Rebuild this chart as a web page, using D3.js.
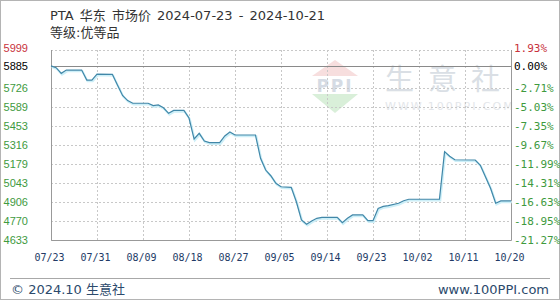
<!DOCTYPE html>
<html><head><meta charset="utf-8">
<script src="https://cdn.jsdelivr.net/npm/d3@7"></script>
<style>html,body{margin:0;padding:0;background:#fff;}svg{display:block;}</style>
</head><body>
<svg id="chart" width="560" height="300"></svg>
<script>
const titleText = "PTA 华东 市场价 2024-07-23 - 2024-10-21";
const subtitleText = "等级:优等品";
const dates = ["2024-07-23","2024-07-24","2024-07-25","2024-07-26","2024-07-29","2024-07-30","2024-07-31","2024-08-01","2024-08-04","2024-08-05","2024-08-06","2024-08-07","2024-08-08","2024-08-11","2024-08-12","2024-08-13","2024-08-14","2024-08-15","2024-08-16","2024-08-18","2024-08-19","2024-08-20","2024-08-21","2024-08-22","2024-08-23","2024-08-25","2024-08-26","2024-08-27","2024-08-28","2024-09-01","2024-09-02","2024-09-03","2024-09-04","2024-09-05","2024-09-06","2024-09-08","2024-09-09","2024-09-10","2024-09-11","2024-09-12","2024-09-13","2024-09-14","2024-09-17","2024-09-18","2024-09-19","2024-09-20","2024-09-22","2024-09-23","2024-09-24","2024-09-25","2024-09-26","2024-09-27","2024-09-29","2024-09-30","2024-10-01","2024-10-07","2024-10-08","2024-10-09","2024-10-10","2024-10-14","2024-10-15","2024-10-16","2024-10-17","2024-10-18","2024-10-19","2024-10-21"];
const prices = [5885,5872,5831,5855,5855,5783,5783,5826,5824,5747,5672,5635,5616,5616,5599,5604,5584,5544,5565,5565,5510,5359,5400,5345,5333,5333,5381,5409,5388,5388,5220,5136,5095,5041,5016,5012,4908,4777,4746,4770,4789,4796,4796,4757,4789,4813,4813,4772,4772,4860,4875,4880,4897,4915,4926,4926,5268,5235,5210,5208,5170,5088,5005,4897,4914,4914];
const yTicks = [5999,5885,5726,5589,5453,5316,5179,5043,4906,4770,4633];
const pctTicks = ["1.93%","0.00%","-2.71%","-5.03%","-7.35%","-9.67%","-11.99%","-14.31%","-16.63%","-18.95%","-21.27%"];
const xTickLabels = ["07/23","07/31","08/09","08/18","08/27","09/05","09/14","09/23","10/02","10/11","10/20"];
const basePrice = 5885;
const startDate = "2024-07-23", endDate = "2024-10-21";

const svg = d3.select("#chart");
const parse = d3.timeParse("%Y-%m-%d");
const L = 51, R = 511, T = 50, B = 240;
const x = d3.scaleTime().domain([parse(startDate), parse(endDate)]).range([L, R]);
const y = d3.scaleLinear().domain([4633, 5999]).range([B, T]);
const tickDates = xTickLabels.map((_, i) => d3.timeDay.offset(parse(startDate), i * 9));

// outer border
svg.append("rect").attr("x",0.5).attr("y",0.5).attr("width",559).attr("height",299)
  .attr("fill","none").attr("stroke","#b4b4b4");

// titles
svg.append("text").attr("x",50).attr("y",20).attr("font-family","DejaVu Sans, Noto Sans CJK SC")
  .attr("font-size",13).attr("word-spacing",2).attr("fill","#333").text(titleText);
svg.append("text").attr("x",50).attr("y",37).attr("font-family","DejaVu Sans, Noto Sans CJK SC")
  .attr("font-size",13).attr("fill","#333").text(subtitleText);

// watermark
const wm = svg.append("g");
wm.append("polygon").attr("points","335,60 358,76 312,76").attr("fill","#f7dede");
wm.append("polygon").attr("points","312,94 358,94 335,113").attr("fill","#d9efd9");
wm.append("text").attr("x",335).attr("y",92).attr("text-anchor","middle").attr("font-family","DejaVu Sans")
  .attr("font-weight","bold").attr("font-size",17).attr("letter-spacing",2).attr("fill","#d5dbe4").text("PPI");
wm.append("text").attr("x",385).attr("y",90).attr("font-family","Noto Sans CJK SC")
  .attr("font-size",29).attr("letter-spacing",14).attr("fill","#dadfe5").text("生意社");
wm.append("text").attr("x",385).attr("y",110).attr("font-family","DejaVu Sans")
  .attr("font-size",11).attr("letter-spacing",2).attr("fill","#e3e6ea").text("WWW.100PPI.COM");

// horizontal grid
svg.append("g").selectAll("line").data(yTicks.filter(v => v !== basePrice)).join("line")
  .attr("x1",L).attr("x2",R).attr("y1",d=>Math.round(y(d))+0.5).attr("y2",d=>Math.round(y(d))+0.5)
  .attr("stroke","#c8c8c8").attr("stroke-dasharray","2,2");
// vertical grid
svg.append("g").selectAll("line").data(tickDates.slice(1,-1)).join("line")
  .attr("y1",T).attr("y2",B).attr("x1",d=>Math.round(x(d))+0.5).attr("x2",d=>Math.round(x(d))+0.5)
  .attr("stroke","#c8c8c8").attr("stroke-dasharray","2,2");
// frame
svg.append("path").attr("d",`M${L+0.5},${T}V${B+0.5}H${R+0.5}V${T}`).attr("fill","none").attr("stroke","#999");
// baseline
svg.append("line").attr("x1",L).attr("x2",R).attr("y1",Math.round(y(basePrice))+0.5).attr("y2",Math.round(y(basePrice))+0.5)
  .attr("stroke","#8a8a8a");

// line
const data = dates.map((d,i)=>({date:parse(d), v:prices[i]}));
const line = d3.line().x(d=>x(d.date)).y(d=>y(d.v));
svg.append("path").datum(data).attr("d",line).attr("transform","translate(0.8,1.2)")
  .attr("fill","none").attr("stroke","#cdeff8").attr("stroke-width",2.2);
svg.append("path").datum(data).attr("d",line).attr("fill","none").attr("stroke","#4187a8").attr("stroke-width",1.2);

// left axis labels
const yl = svg.append("g").attr("font-family","Liberation Sans, Arial").attr("font-size",11);
yl.selectAll("text").data(yTicks).join("text")
  .attr("x",28).attr("text-anchor","end").attr("y",(d,i)=>y(d)+(i===0?2:4))
  .attr("fill",d=> d>basePrice ? "#c8323c" : d===basePrice ? "#000" : "#3e9a3e").text(d=>d);
// right axis labels
const yr = svg.append("g").attr("font-family","DejaVu Sans Mono, monospace").attr("font-size",11);
yr.selectAll("text").data(yTicks).join("text")
  .attr("x",514).attr("y",(d,i)=>y(d)+(i===0?2:4))
  .attr("fill",d=> d>basePrice ? "#c8323c" : d===basePrice ? "#000" : "#3e9a3e").text((d,i)=>pctTicks[i]);

// x axis labels
const xa = d3.axisBottom(x).tickValues(tickDates).tickFormat((d,i)=>xTickLabels[i]).tickSize(0).tickPadding(0);
const gx = svg.append("g").attr("transform",`translate(-2,${B+14})`).call(xa);
gx.select(".domain").remove();
gx.selectAll("text").attr("font-family","DejaVu Sans Mono, monospace").attr("font-size",10).attr("fill","#223a66");

// footer
svg.append("line").attr("x1",10).attr("x2",550).attr("y1",278.5).attr("y2",278.5).attr("stroke","#a8a8a8");
svg.append("text").attr("x",11).attr("y",294).attr("font-family","DejaVu Sans, Noto Sans CJK SC")
  .attr("font-size",13).attr("fill","#2c4a6c").text("© 2024.10 生意社");
svg.append("text").attr("x",549).attr("y",294).attr("text-anchor","end").attr("font-family","DejaVu Sans")
  .attr("font-size",13).attr("fill","#2c4a6c").text("www.100PPI.com");
</script>
</body></html>
